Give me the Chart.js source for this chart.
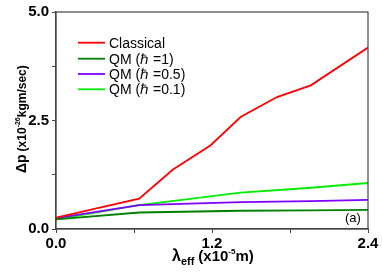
<!DOCTYPE html>
<html>
<head>
<meta charset="utf-8">
<script src="https://cdn.jsdelivr.net/npm/chart.js@4"></script>
<style>
  html, body { margin: 0; padding: 0; background: #fff; }
  #wrap { width: 382px; height: 273px; }
</style>
</head>
<body>
<div id="wrap"><canvas id="chart-dp"></canvas></div>
<script>
// values
const seriesNames = ['Classical', 'QM (\u210F =1)', 'QM (\u210F =0.5)', 'QM (\u210F =0.1)'];
const lambdaClassical = [0, 0.32, 0.64, 0.9, 1.19, 1.42, 1.70, 1.96, 2.4];
const dpClassical = [0.26, 0.48, 0.70, 1.37, 1.93, 2.58, 3.04, 3.31, 4.18];
const lambdaQM = [0, 0.64, 1.42, 1.96, 2.4];
const dpQM1 = [0.22, 0.38, 0.42, 0.43, 0.44];
const dpQM05 = [0.25, 0.55, 0.62, 0.64, 0.67];
const dpQM01 = [0.22, 0.55, 0.84, 0.95, 1.06];
const xTicks = [0, 0.6, 1.2, 1.8, 2.4];
const yTicks = [0, 1.25, 2.5, 3.75, 5];

const colors = ['#ff0000', '#007f00', '#8000ff', '#00ee00'];
const pts = (xs, ys) => xs.map((x, i) => ({ x: x, y: ys[i] }));

const ctx = document.getElementById('chart-dp').getContext('2d');

// frame, axis titles, legend and panel label
const decorations = {
    id: 'decorations',
    afterDraw(chart) {
        const c = chart.ctx;
        const a = chart.chartArea;
        c.save();
        c.strokeStyle = '#444';
        c.lineWidth = 1.2;
        c.strokeRect(a.left, a.top, a.right - a.left, a.bottom - a.top);

        c.fillStyle = '#000';
        // x title
        c.textBaseline = 'alphabetic';
        c.textAlign = 'left';
        let x = 172, y = 261;
        c.font = 'bold 16px Arial, "Liberation Sans"';
        c.fillText('\u03BB', x, y); x += c.measureText('\u03BB').width;
        c.font = 'bold 11px Arial, "Liberation Sans"';
        c.fillText('eff', x, y + 4); x += c.measureText('eff').width + 4;
        c.font = 'bold 15px Arial, "Liberation Sans"';
        c.fillText('(x10', x, y); x += c.measureText('(x10').width;
        c.font = 'bold 8px Arial, "Liberation Sans"';
        c.fillText('-5', x, y - 7); x += c.measureText('-5').width;
        c.font = 'bold 15px Arial, "Liberation Sans"';
        c.fillText('m)', x, y);

        // y title (rotated)
        c.save();
        c.translate(26, 173);
        c.rotate(-Math.PI / 2);
        x = 0; y = 0;
        c.font = 'bold 14px Arial, "Liberation Sans"';
        c.fillText('\u0394p', x, y); x += c.measureText('\u0394p').width + 3;
        c.font = 'bold 12px Arial, "Liberation Sans"';
        c.fillText('(x10', x, y); x += c.measureText('(x10').width;
        c.font = 'bold 7px Arial, "Liberation Sans"';
        c.fillText('-26', x, y - 6); x += c.measureText('-26').width;
        c.font = 'bold 12px Arial, "Liberation Sans"';
        c.fillText('kgm/sec)', x, y);
        c.restore();

        // legend
        c.font = '14px Arial, "Liberation Sans"';
        c.textBaseline = 'middle';
        const rows = [42.7, 58.7, 74, 89.3];
        chart.data.datasets.forEach((ds, i) => {
            c.strokeStyle = ds.borderColor;
            c.lineWidth = 1.8;
            c.beginPath();
            c.moveTo(78, rows[i]);
            c.lineTo(105, rows[i]);
            c.stroke();
            c.fillStyle = '#000';
            c.fillText(ds.label, 109, rows[i] + 1);
        });

        c.font = '13px Arial, "Liberation Sans"';
        c.fillText('(a)', 345, 218);
        c.restore();
    }
};

const data = {
    datasets: [
        { label: seriesNames[0], data: pts(lambdaClassical, dpClassical), borderColor: colors[0] },
        { label: seriesNames[1], data: pts(lambdaQM, dpQM1), borderColor: colors[1] },
        { label: seriesNames[2], data: pts(lambdaQM, dpQM05), borderColor: colors[2] },
        { label: seriesNames[3], data: pts(lambdaQM, dpQM01), borderColor: colors[3] }
    ].map(ds => Object.assign(ds, {
        borderWidth: 1.8,
        pointRadius: 0,
        tension: 0,
        fill: false
    }))
};

const tickFont = { family: 'Arial, "Liberation Sans"', size: 15, weight: 'bold' };

const config = {
    type: 'line',
    data: data,
    options: {
        responsive: true,
        maintainAspectRatio: false,
        animation: false,
        layout: { padding: { top: 12, right: 14, left: 0, bottom: 0 } },
        plugins: {
            legend: { display: false },
            tooltip: { enabled: false }
        },
        scales: {
            x: {
                type: 'linear',
                min: 0,
                max: 2.4,
                afterBuildTicks: s => { s.ticks = xTicks.map(v => ({ value: v })); },
                afterFit: s => { s.height = 44; },
                border: { color: '#444', width: 1.2 },
                grid: { drawOnChartArea: false, tickLength: 4, color: '#444' },
                ticks: {
                    font: tickFont,
                    color: '#000',
                    padding: 2,
                    maxRotation: 0,
                    autoSkip: false,
                    callback: v => (Math.abs(v / 1.2 - Math.round(v / 1.2)) < 1e-6 ? v.toFixed(1) : '')
                }
            },
            y: {
                min: 0,
                max: 5,
                afterBuildTicks: s => { s.ticks = yTicks.map(v => ({ value: v })); },
                afterFit: s => { s.width = 56; },
                border: { color: '#444', width: 1.2 },
                grid: { drawOnChartArea: false, tickLength: 4, color: '#444' },
                ticks: {
                    font: tickFont,
                    color: '#000',
                    padding: 3,
                    autoSkip: false,
                    callback: v => (Math.abs(v / 2.5 - Math.round(v / 2.5)) < 1e-6 ? v.toFixed(1) : '')
                }
            }
        }
    },
    plugins: [decorations]
};

new Chart(ctx, config);
</script>
</body>
</html>
